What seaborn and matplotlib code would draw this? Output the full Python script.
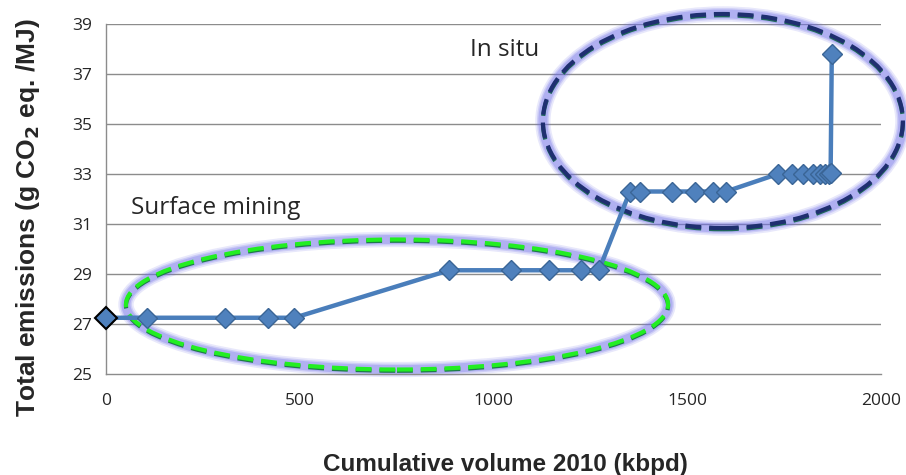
import matplotlib
matplotlib.use("Agg")
import matplotlib.pyplot as plt
from matplotlib.patches import Ellipse
import seaborn as sns
import pandas as pd

volume = [0, 106, 307, 418, 486, 886, 1045, 1143, 1226, 1272,
          1352, 1378, 1460, 1520, 1566, 1600,
          1734, 1770, 1799, 1825, 1843, 1855, 1866, 1870, 1873]
emissions = [27.25, 27.25, 27.25, 27.25, 27.25, 29.15, 29.15, 29.15, 29.15, 29.15,
             32.3, 32.3, 32.3, 32.3, 32.3, 32.3,
             33.0, 33.0, 33.0, 33.0, 33.0, 33.0, 33.0, 33.05, 37.8]
x_ticks = [0, 500, 1000, 1500, 2000]
y_ticks = [25, 27, 29, 31, 33, 35, 37, 39]

df = pd.DataFrame({"volume": volume, "emissions": emissions})

sns.set_style("white")
plt.rcParams["font.family"] = ["Liberation Sans", "DejaVu Sans"]

fig = plt.figure(figsize=(9.06, 4.75), dpi=100)
ax = fig.add_axes([0.117, 0.2126, 0.8554, 0.7369])

grid_c = "#8c8c8c"
for yv in y_ticks[1:]:
    ax.axhline(yv, color=grid_c, lw=1.0, zorder=0)

# ellipses (glow + dashed)
def glow_ellipse(cx, cy, w, h, dash_c, dash_c2):
    for lw, a in [(11, 0.16), (8.5, 0.22), (6.5, 0.3)]:
        ax.add_patch(Ellipse((cx, cy), w, h, fill=False, ec="#7070e8", lw=lw,
                             alpha=a, clip_on=False, zorder=2))
    dash = (0, (3.8, 1.9))
    ax.add_patch(Ellipse((cx, cy - 0.05), w, h, fill=False, ec=dash_c2, lw=3.0,
                         ls=dash, clip_on=False, zorder=3))
    ax.add_patch(Ellipse((cx, cy), w, h, fill=False, ec=dash_c, lw=3.0,
                         ls=dash, clip_on=False, zorder=3))

glow_ellipse(751, 27.78, 1399, 5.2, "#22ee22", "#1f7a4a")
glow_ellipse(1592, 35.12, 929, 8.56, "#1f2f70", "#1f6a5a")

sns.lineplot(data=df, x="volume", y="emissions", sort=False, color="#4a7ebb",
             lw=3.2, marker="D", markersize=10, markerfacecolor="#4f81bd",
             markeredgecolor="#3a6596", markeredgewidth=1.0, ax=ax, zorder=4)
ax.plot([volume[0]], [emissions[0]], marker="D", ms=11, mfc="#4f81bd",
        mec="black", mew=1.5, zorder=5, clip_on=False)

ax.set_xlim(0, 2000)
ax.set_ylim(25, 39)
ax.set_xticks(x_ticks)
ax.set_yticks(y_ticks)
ax.tick_params(axis="both", direction="out", length=6, width=1, color=grid_c,
               labelsize=12.5, pad=4)
ax.tick_params(axis="x", pad=8)
for lab in ax.get_xticklabels() + ax.get_yticklabels():
    lab.set_fontfamily(["Open Sans", "DejaVu Sans"])
for s in ["top", "right"]:
    ax.spines[s].set_visible(False)
for s in ["left", "bottom"]:
    ax.spines[s].set_color(grid_c)
    ax.spines[s].set_linewidth(1)

ax.set_xlabel("Cumulative volume 2010 (kbpd)", fontsize=17.5, fontweight="bold")
ax.xaxis.set_label_coords(0.515, -0.225)
ax.set_ylabel("Total emissions (g CO$_\\mathbf{2}$ eq. /MJ)", fontsize=19,
              fontweight="bold")
ax.yaxis.set_label_coords(-0.083, 0.447)

ax.text(65, 31.64, "Surface mining", fontsize=17.5, va="center", ha="left", zorder=6,
        family=["Open Sans", "DejaVu Sans"])
ax.text(939, 37.96, "In situ", fontsize=17.5, va="center", ha="left", zorder=6,
        family=["Open Sans", "DejaVu Sans"])

fig.savefig("out.png", dpi=100)
